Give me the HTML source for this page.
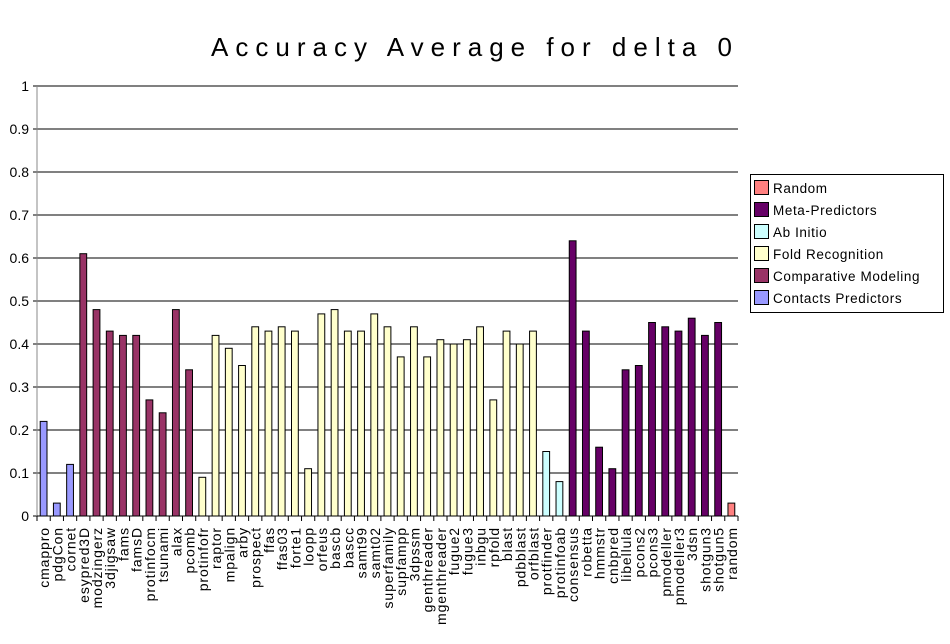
<!DOCTYPE html>
<html><head><meta charset="utf-8"><style>
body{margin:0;background:#fff;}
svg text{font-family:"Liberation Sans",sans-serif;}
</style></head><body>
<svg id="s" width="950" height="639" xmlns="http://www.w3.org/2000/svg"></svg>
<script>
const data=[
["cmappro",.22,0],["pdgCon",.03,0],["cornet",.12,0],
["esypred3D",.61,1],["modzingerz",.48,1],["3djigsaw",.43,1],["fams",.42,1],["famsD",.42,1],["protinfocm",.27,1],["tsunami",.24,1],["alax",.48,1],["pcomb",.34,1],
["protinfofr",.09,2],["raptor",.42,2],["mpalign",.39,2],["arby",.35,2],["prospect",.44,2],["ffas",.43,2],["ffas03",.44,2],["forte1",.43,2],["loopp",.11,2],["orfeus",.47,2],["bascb",.48,2],["bascc",.43,2],["samt99",.43,2],["samt02",.47,2],["superfamily",.44,2],["supfampp",.37,2],["3dpssm",.44,2],["genthreader",.37,2],["mgenthreader",.41,2],["fugue2",.40,2],["fugue3",.41,2],["inbgu",.44,2],["rpfold",.27,2],["blast",.43,2],["pdbblast",.40,2],["orfblast",.43,2],
["protfinder",.15,3],["protinfoab",.08,3],
["consensus",.64,4],["robetta",.43,4],["hmmstr",.16,4],["cnbpred",.11,4],["libellula",.34,4],["pcons2",.35,4],["pcons3",.45,4],["pmodeller",.44,4],["pmodeller3",.43,4],["3dsn",.46,4],["shotgun3",.42,4],["shotgun5",.45,4],
["random",.03,5]];
const cols=["#9999ff","#993366","#ffffcc","#ccffff","#660066","#ff8080"];
const L=37,R=738,T=86,B=516,W=(R-L)/data.length;
let h='<text x="475" y="56" font-size="26" text-anchor="middle" letter-spacing="7">Accuracy Average for delta 0</text>';
for(let i=0;i<=10;i++){const y=B-i*(B-T)/10;
 h+=`<line x1="${L}" x2="${R}" y1="${y}" y2="${y}" stroke="#000" stroke-width="1"/>`;
 h+=`<line x1="${L-4}" x2="${L}" y1="${y}" y2="${y}" stroke="#000"/>`;
 h+=`<text x="${L-8}" y="${y+5}" font-size="14" text-anchor="end">${i==0?"0":i==10?"1":(i/10).toFixed(1)}</text>`;}
h+=`<line x1="${L}" x2="${L}" y1="${T}" y2="${B}" stroke="#888"/>`;
data.forEach((d,i)=>{const x=L+i*W;const bh=d[1]*(B-T);
 h+=`<rect x="${x+3.2}" y="${B-bh}" width="6.8" height="${bh}" fill="${cols[d[2]]}" stroke="#000" stroke-width="1"/>`;
 h+=`<line x1="${x}" x2="${x}" y1="${B}" y2="${B+5}" stroke="#000"/>`;
 const cx=x+W/2+5.5;
 h+=`<text transform="translate(${cx},527) rotate(-90)" font-size="14" letter-spacing="0.9" text-anchor="end">${d[0]}</text>`;});
h+=`<line x1="${R}" x2="${R}" y1="${B}" y2="${B+5}" stroke="#000"/>`;
h+='<rect x="750.5" y="174.5" width="193" height="138" fill="#fff" stroke="#000"/>';
const lg=[["Random",5],["Meta-Predictors",4],["Ab Initio",3],["Fold Recognition",2],["Comparative Modeling",1],["Contacts Predictors",0]];
lg.forEach((l,i)=>{const y=188+i*22;
 h+=`<rect x="754.5" y="${y-7.5}" width="14" height="14" fill="${cols[l[1]]}" stroke="#000"/>`;
 h+=`<text x="773" y="${y+5}" font-size="13.5" letter-spacing="0.6">${l[0]}</text>`;});
h+=`<line x1="${L}" x2="${R}" y1="${B}" y2="${B}" stroke="#000"/>`;
document.getElementById("s").innerHTML=h;
</script>
</body></html>
